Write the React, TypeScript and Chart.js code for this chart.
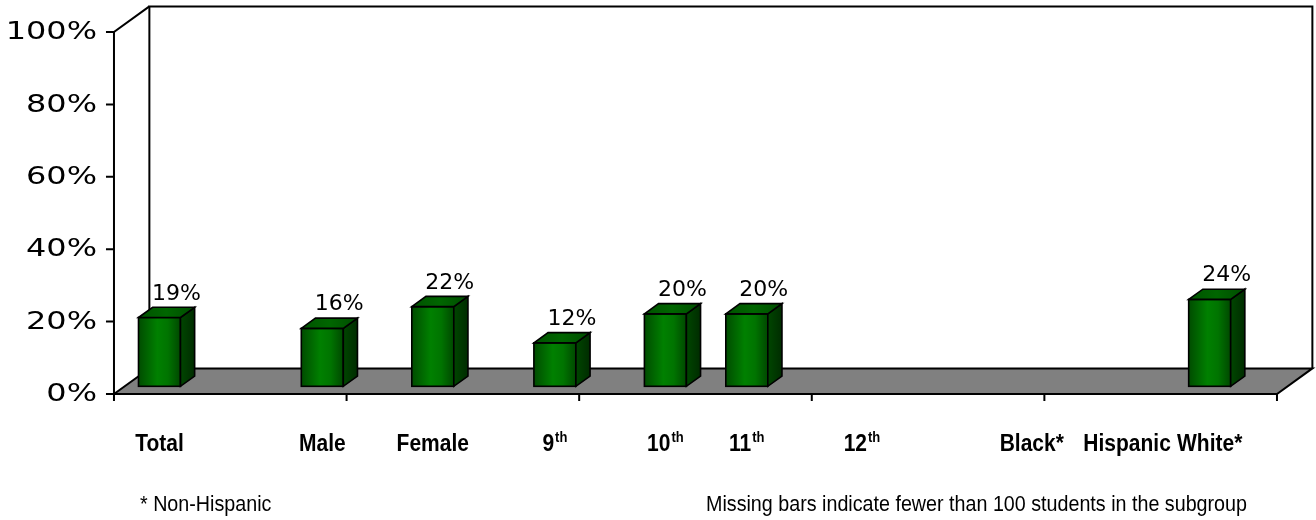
import React, { useEffect, useRef } from "react";
import { Chart, registerables } from "chart.js";

Chart.register(...registerables);

// ---------- data ----------
const categories = ["Total", "Male", "Female", "9th", "10th", "11th", "12th", "Black*", "Hispanic", "White*"];
// position of each category along the (irregularly spaced) category axis, axis runs 0..10
const categoryX = [0.3, 1.7, 2.65, 3.7, 4.65, 5.35, 6.34, 7.8, 8.62, 9.33];
const percentValues: (number | null)[] = [19, 16, 22, 12, 20, 20, null, null, null, 24];
const yTickValues = [0, 20, 40, 60, 80, 100];
const xTickValues = [0, 2, 4, 6, 8, 10];
const footnoteLeft = "* Non-Hispanic";
const footnoteRight = "Missing bars indicate fewer than 100 students in the subgroup";

// ---------- 3D geometry (style) ----------
const DX = 35.4;
const DY = 25.6;
const FRONT = 0.3;
const DEPTH = 0.4;

const threeDPlugin = {
  id: "threeD",
  beforeDatasetsDraw(chart: any) {
    const { ctx } = chart;
    const xs = chart.scales.x;
    const ys = chart.scales.y;
    const fx = (u: number) => xs.getPixelForValue(u) - FRONT * DX;
    const fy = (v: number) => ys.getPixelForValue(v) + FRONT * DY;
    const x0 = fx(xs.min), x1 = fx(xs.max), y0 = fy(ys.min), y1 = fy(ys.max);

    ctx.save();
    ctx.lineWidth = 2;
    ctx.strokeStyle = "#000";
    ctx.lineJoin = "miter";
    // back wall
    ctx.beginPath();
    ctx.moveTo(x0 + DX, y0 - DY);
    ctx.lineTo(x0 + DX, y1 - DY);
    ctx.lineTo(x1 + DX, y1 - DY);
    ctx.lineTo(x1 + DX, y0 - DY);
    ctx.stroke();
    // side wall
    ctx.beginPath();
    ctx.moveTo(x0, y0);
    ctx.lineTo(x0, y1);
    ctx.lineTo(x0 + DX, y1 - DY);
    ctx.stroke();
    // floor
    ctx.beginPath();
    ctx.moveTo(x0, y0);
    ctx.lineTo(x0 + DX, y0 - DY);
    ctx.lineTo(x1 + DX, y0 - DY);
    ctx.lineTo(x1, y0);
    ctx.closePath();
    ctx.fillStyle = "#808080";
    ctx.fill();
    ctx.stroke();
    // y tick marks
    ctx.beginPath();
    for (const v of yTickValues) {
      ctx.moveTo(x0 - 8, fy(v));
      ctx.lineTo(x0, fy(v));
    }
    // x tick marks
    for (const u of xTickValues) {
      ctx.moveTo(fx(u), y0);
      ctx.lineTo(fx(u), y0 + 7);
    }
    ctx.stroke();

    // y labels (wide font)
    ctx.fillStyle = "#000";
    ctx.font = '24px "DejaVu Sans", Verdana, sans-serif';
    ctx.textAlign = "right";
    ctx.textBaseline = "middle";
    for (const v of yTickValues) {
      ctx.save();
      ctx.translate(x0 - 17, fy(v) + 1);
      ctx.scale(1.33, 1);
      ctx.fillText(`${v}%`, 0, 0);
      ctx.restore();
    }
    ctx.restore();
  },
  afterDatasetsDraw(chart: any) {
    const { ctx } = chart;
    const xs = chart.scales.x;
    const ys = chart.scales.y;
    const meta = chart.getDatasetMeta(0);
    const ds = chart.data.datasets[0];
    const bdx = DEPTH * DX;
    const bdy = DEPTH * DY;

    ctx.save();
    meta.data.forEach((el: any, i: number) => {
      const { x, y, base, width } = el.getProps(["x", "y", "base", "width"], true);
      const l = x - width / 2;
      const r = x + width / 2;
      // front face
      const g = ctx.createLinearGradient(l, 0, r, 0);
      g.addColorStop(0, "#004c00");
      g.addColorStop(0.45, "#008000");
      g.addColorStop(0.7, "#007400");
      g.addColorStop(1, "#004800");
      ctx.fillStyle = g;
      ctx.fillRect(l, y, width, base - y);
      ctx.lineWidth = 1.6;
      ctx.strokeStyle = "#000";
      ctx.strokeRect(l, y, width, base - y);
      // side face
      const gs = ctx.createLinearGradient(r, 0, r + bdx, 0);
      gs.addColorStop(0, "#004600");
      gs.addColorStop(1, "#002c00");
      ctx.beginPath();
      ctx.moveTo(r, y);
      ctx.lineTo(r + bdx, y - bdy);
      ctx.lineTo(r + bdx, base - bdy);
      ctx.lineTo(r, base);
      ctx.closePath();
      ctx.fillStyle = gs;
      ctx.fill();
      ctx.stroke();
      // top face
      const gt = ctx.createLinearGradient(l, 0, r + bdx, 0);
      gt.addColorStop(0, "#005200");
      gt.addColorStop(0.5, "#006600");
      gt.addColorStop(1, "#004c00");
      ctx.beginPath();
      ctx.moveTo(l, y);
      ctx.lineTo(l + bdx, y - bdy);
      ctx.lineTo(r + bdx, y - bdy);
      ctx.lineTo(r, y);
      ctx.closePath();
      ctx.fillStyle = gt;
      ctx.fill();
      ctx.stroke();
      // value label
      const v = ds.data[i].y;
      ctx.fillStyle = "#000";
      ctx.font = '22px "DejaVu Sans", Verdana, sans-serif';
      ctx.textAlign = "center";
      ctx.textBaseline = "alphabetic";
      ctx.fillText(`${v}%`, x + 17, y - 18);
    });

    // category labels (condensed look: vertical stretch)
    const mainFont = 'bold 21px "Liberation Sans", Arial, sans-serif';
    const supFont = 'bold 13px "Liberation Sans", Arial, sans-serif';
    const yBase = ys.getPixelForValue(ys.min) + FRONT * DY + 57;
    ctx.fillStyle = "#000";
    ctx.textBaseline = "alphabetic";
    ctx.textAlign = "left";
    categories.forEach((c, i) => {
      const cx = xs.getPixelForValue(categoryX[i]);
      const m = c.match(/^(\d+)(st|nd|rd|th)$/);
      const mainTxt = m ? m[1] : c;
      const supTxt = m ? m[2] : "";
      ctx.font = mainFont;
      const w1 = ctx.measureText(mainTxt).width;
      ctx.font = supFont;
      const w2 = supTxt ? ctx.measureText(supTxt).width + 1 : 0;
      const start = cx - (w1 + w2) / 2;
      ctx.save();
      ctx.translate(start, yBase);
      ctx.scale(1, 1.14);
      ctx.font = mainFont;
      ctx.fillText(mainTxt, 0, 0);
      if (supTxt) {
        ctx.font = supFont;
        ctx.fillText(supTxt, w1 + 1, -8);
      }
      ctx.restore();
    });

    // footnotes
    ctx.font = '20px "Liberation Sans", Arial, sans-serif';
    ctx.textAlign = "left";
    for (const [txt, fx] of [[footnoteLeft, 140], [footnoteRight, 706]] as [string, number][]) {
      ctx.save();
      ctx.translate(fx, 511);
      ctx.scale(0.985, 1.12);
      ctx.fillText(txt, 0, 0);
      ctx.restore();
    }
    ctx.restore();
  },
};

export default function App() {
  const canvasRef = useRef<HTMLCanvasElement | null>(null);

  useEffect(() => {
    if (!canvasRef.current) return;
    const points = percentValues
      .map((v, i) => (v == null ? null : { x: categoryX[i], y: v }))
      .filter((p) => p !== null) as { x: number; y: number }[];

    const chart = new Chart(canvasRef.current, {
      type: "bar",
      data: {
        datasets: [
          {
            label: "Percent",
            data: points,
            backgroundColor: "#008000",
            borderWidth: 0,
            barThickness: 42,
          },
        ],
      },
      options: {
        animation: false,
        responsive: true,
        maintainAspectRatio: false,
        layout: { padding: { left: 124.6, right: 28.4, top: 24.3, bottom: 133.7 } },
        plugins: { legend: { display: false }, tooltip: { enabled: false }, title: { display: false } },
        scales: {
          x: { type: "linear", min: 0, max: 10, offset: false, display: false },
          y: { type: "linear", min: 0, max: 100, display: false },
        },
      },
      plugins: [threeDPlugin],
    });
    return () => chart.destroy();
  }, []);

  return (
    <div style={{ position: "absolute", left: 0, top: 0, width: 1316, height: 520, background: "#fff" }}>
      <canvas ref={canvasRef} />
    </div>
  );
}
